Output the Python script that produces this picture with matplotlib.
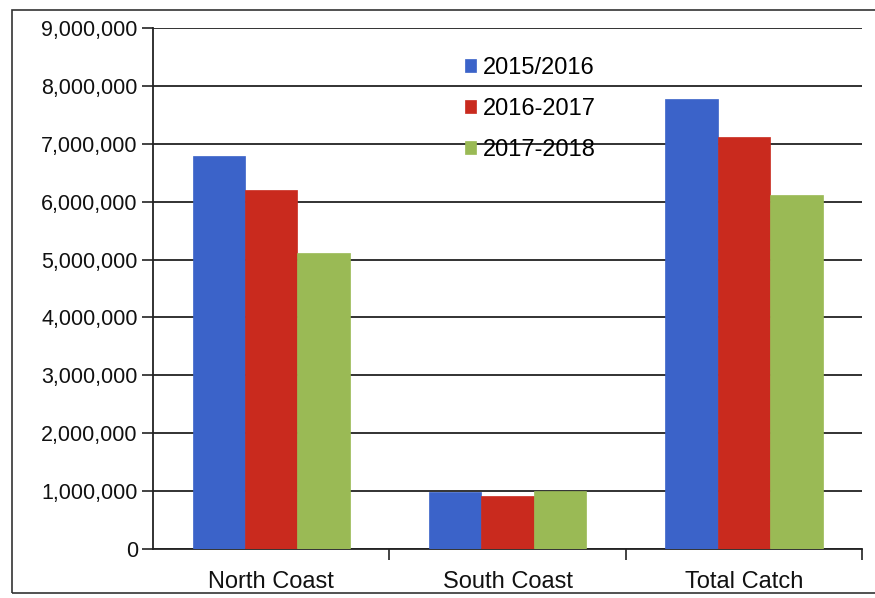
import matplotlib
matplotlib.use("Agg")
import matplotlib.pyplot as plt
import numpy as np
from matplotlib.ticker import FuncFormatter, FixedLocator
from matplotlib.patches import Rectangle

categories = ["North Coast", "South Coast", "Total Catch"]
series_names = ["2015/2016", "2016-2017", "2017-2018"]
v_2015_2016 = [6790000, 980000, 7770000]
v_2016_2017 = [6200000, 920000, 7120000]
v_2017_2018 = [5110000, 1000000, 6110000]
colors = ["#3b63c9", "#c92a1e", "#9aba55"]

plt.rcParams['font.family'] = ['Liberation Sans', 'DejaVu Sans']

fig = plt.figure(figsize=(8.75, 5.98), dpi=100)
ax = fig.add_axes([0.1749, 0.0819, 0.8105, 0.8713])

x = np.arange(len(categories))
w = 0.222
for i, (name, vals) in enumerate(zip(series_names, [v_2015_2016, v_2016_2017, v_2017_2018])):
    ax.bar(x + (i - 1) * w, vals, width=w, color=colors[i], label=name, zorder=3,
           edgecolor=colors[i], linewidth=0.5)

ax.set_xlim(-0.5, 2.5)
ax.set_ylim(0, 9000000)
ax.set_yticks(np.arange(0, 9000001, 1000000))
ax.yaxis.set_major_formatter(FuncFormatter(lambda v, p: f"{int(v):,}"))
ax.yaxis.grid(True, color="#222222", linewidth=1.3, zorder=1)
ax.set_xticks(x)
ax.set_xticklabels(categories)
ax.xaxis.set_minor_locator(FixedLocator([0.5, 1.5, 2.5]))
ax.tick_params(axis='x', which='major', length=0, labelsize=17, pad=16, colors="#111111")
ax.tick_params(axis='x', which='minor', length=8, width=1.2, color="#222222", direction='out')
ax.tick_params(axis='y', length=8, width=1.2, color="#222222", labelsize=15.5, pad=3, colors="#111111")
for s in ["top", "right"]:
    ax.spines[s].set_visible(False)
for s in ["left", "bottom"]:
    ax.spines[s].set_color("#222222")
    ax.spines[s].set_linewidth(1.3)

leg = ax.legend(loc="upper left", bbox_to_anchor=(0.41, 0.985), frameon=False, fontsize=17,
                handlelength=0.45, handleheight=0.45, handletextpad=0.3, labelspacing=0.8)

fig.patches.append(Rectangle((12 / 875, 1 - 593 / 598), 1.1, (593 - 10) / 598,
                             transform=fig.transFigure, fill=False, edgecolor="#333333",
                             linewidth=1.2))

fig.savefig("out.png", dpi=100)
